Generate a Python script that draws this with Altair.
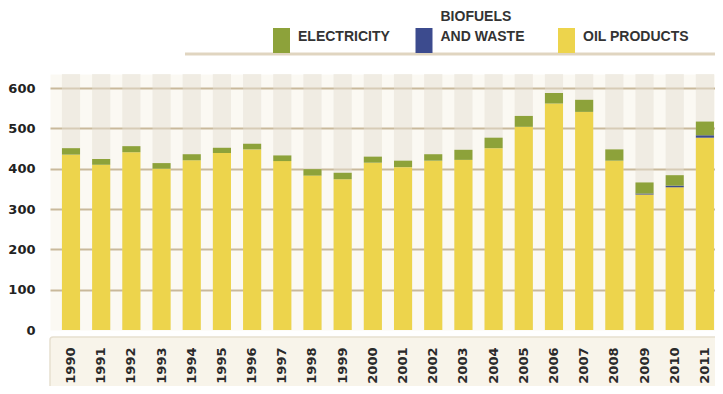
import altair as alt
import pandas as pd

years = [str(y) for y in range(1990, 2012)]
oil_products = [435, 410, 441, 400, 421, 439, 448, 419, 383, 374, 415, 404, 420, 422, 451, 504, 562, 541, 420, 336, 354, 477]
biofuels_waste = [0, 0, 0, 0, 0, 0, 0, 0, 0, 0, 0, 0, 0, 0, 0, 0, 0, 0, 0, 2.5, 4, 6]
electricity = [16, 14, 15, 14, 15, 13, 14, 14, 16, 16, 15, 16, 16, 25, 26, 27, 26, 30, 28, 27.5, 26, 34]

series_names = ["ELECTRICITY", "BIOFUELS AND WASTE", "OIL PRODUCTS"]
series_colors = ["#8da23a", "#3c4b8e", "#edd44c"]
y_ticks = [0, 100, 200, 300, 400, 500, 600]
Y_MAX = 635

rows = []
for i, yr in enumerate(years):
    rows.append({"year": yr, "source": "OIL PRODUCTS", "value": oil_products[i], "rank": 0})
    rows.append({"year": yr, "source": "BIOFUELS AND WASTE", "value": biofuels_waste[i], "rank": 1})
    rows.append({"year": yr, "source": "ELECTRICITY", "value": electricity[i], "rank": 2})
df = pd.DataFrame(rows)
years_df = pd.DataFrame({"year": years})

W, H = 665, 256

x_scale = alt.Scale(domain=years, paddingInner=0.4, paddingOuter=0.215, align=0.92)
y_scale = alt.Scale(domain=[0, Y_MAX], nice=False)

x_axis = alt.Axis(
    title=None, labelAngle=270, labelFont="DejaVu Sans", labelFontWeight="bold",
    labelFontSize=13, labelColor="#2a2a2a", labelPadding=17, ticks=False, domain=False,
    zindex=1, labelAlign="right", labelBaseline="middle",
)
y_axis = alt.Axis(
    title=None, values=y_ticks, labelFont="DejaVu Sans", labelFontWeight="bold",
    labelFontSize=13, labelColor="#222222", labelPadding=15, ticks=False, domain=False,
    grid=True, gridWidth=2,
    gridColor={"condition": {"test": "datum.value == 0", "value": "rgba(0,0,0,0)"}, "value": "#c9b99b"},
    zindex=0,
)

# decorative label panel below the plot
label_panel = alt.Chart(years_df.head(1)).mark_rect(
    fill="#f8f4ea", stroke="#e6dfd0", strokeWidth=1.5, cornerRadius=3
).encode(
    x=alt.value(0), x2=alt.value(W + 5), y=alt.value(H + 7), y2=alt.value(H + 62)
)

# decorative underline of the legend
legend_line = alt.Chart(years_df.head(1)).mark_rule(
    color="#d8cab0", strokeWidth=3, opacity=0.8
).encode(
    x=alt.value(135), x2=alt.value(W + 10), y=alt.value(-20)
)

stripes = alt.Chart(years_df).mark_bar(color="#e6e0d4", opacity=0.5).encode(
    x=alt.X("year:N", scale=x_scale, axis=x_axis, sort=years),
    y=alt.Y(datum=Y_MAX, scale=y_scale, axis=y_axis),
    y2=alt.Y2(datum=0),
)

bars = alt.Chart(df).mark_bar().encode(
    x=alt.X("year:N", scale=x_scale, axis=x_axis, sort=years),
    y=alt.Y("value:Q", stack="zero", scale=y_scale, axis=y_axis),
    color=alt.Color(
        "source:N",
        scale=alt.Scale(domain=series_names, range=series_colors),
        legend=alt.Legend(
            title=None, orient="none", legendX=219, legendY=-70, direction="horizontal",
            symbolType="M-0.68,0.92H0.68V2.92H-0.68Z", symbolSize=625, symbolStrokeWidth=0,
            symbolOpacity=1, labelFont="Liberation Sans", labelFontWeight="bold",
            labelFontSize=14, labelColor="#333333", labelOffset=4,
            gridAlign="all", columnPadding=7.5, padding=0,
            labelExpr="datum.label == 'BIOFUELS AND WASTE' ? ['BIOFUELS', 'AND WASTE'] : ['', datum.label]",
        ),
    ),
    order=alt.Order("rank:Q"),
)

chart = alt.layer(label_panel, legend_line, stripes, bars).properties(
    width=W, height=H,
    autosize=alt.AutoSizeParams(type="none"),
    padding={"left": 42, "top": 66, "right": 0, "bottom": 56},
    background="white",
).configure(
    view=alt.ViewConfig(fill="#fbf9f3", stroke="transparent"),
    style={"guide-label": {"lineHeight": 20}},
)

chart.save("out.html", embed_options={"renderer": "svg", "actions": False})
